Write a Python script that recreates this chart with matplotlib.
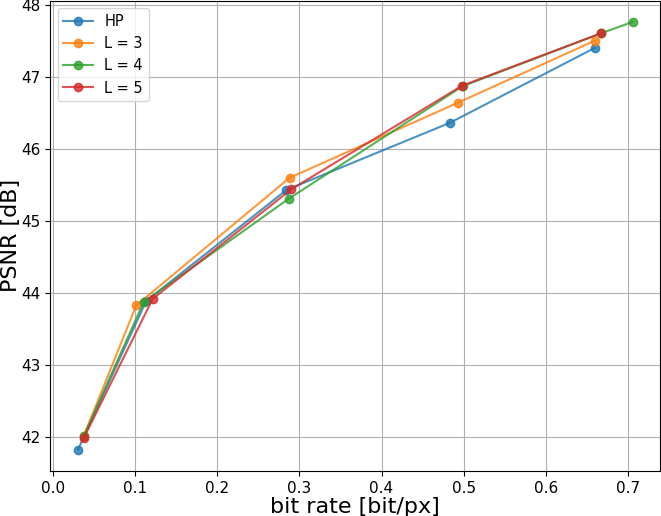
import matplotlib
matplotlib.use("Agg")
import matplotlib.pyplot as plt

hp_rate = [0.030, 0.113, 0.284, 0.483, 0.660]
hp_psnr = [41.83, 43.89, 45.43, 46.36, 47.40]

l3_rate = [0.037, 0.101, 0.288, 0.493, 0.660]
l3_psnr = [42.02, 43.83, 45.60, 46.64, 47.50]

l4_rate = [0.037, 0.110, 0.287, 0.499, 0.667, 0.706]
l4_psnr = [42.02, 43.875, 45.31, 46.87, 47.60, 47.76]

l5_rate = [0.037, 0.121, 0.290, 0.498, 0.667]
l5_psnr = [41.99, 43.92, 45.44, 46.875, 47.60]

fig, ax = plt.subplots(figsize=(6.61, 5.16), dpi=100)

ax.plot(hp_rate, hp_psnr, 'o-', alpha=0.8, label="HP")
ax.plot(l3_rate, l3_psnr, 'o-', alpha=0.8, label="L = 3")
ax.plot(l4_rate, l4_psnr, 'o-', alpha=0.8, label="L = 4")
ax.plot(l5_rate, l5_psnr, 'o-', alpha=0.8, label="L = 5")

ax.set_xlabel("bit rate [bit/px]", fontsize=16, labelpad=1)
ax.set_ylabel("PSNR [dB]", fontsize=16, labelpad=0)
ax.tick_params(labelsize=11)
ax.grid(True)
ax.legend(fontsize=10.5, loc="upper left")

plt.subplots_adjust(left=0.076, right=0.999, top=0.999, bottom=0.087)
plt.savefig("out.png")
